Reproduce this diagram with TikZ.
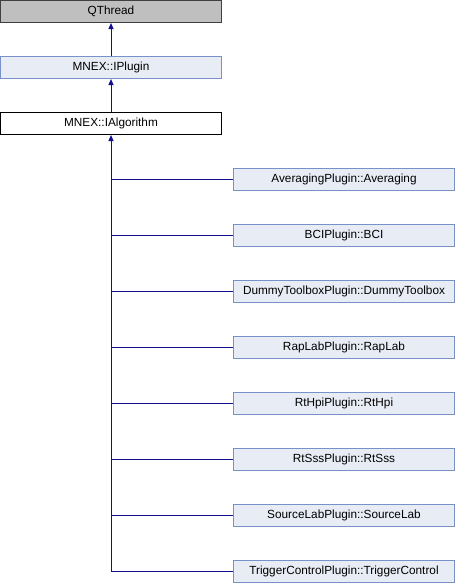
\documentclass[tikz,border=0pt]{standalone}
\usepackage{fontspec}
\setmainfont{Liberation Sans}
\usepackage{xcolor}
\definecolor{edgeblue}{RGB}{16,16,140}
\definecolor{boxfill}{RGB}{232,236,245}
\definecolor{boxline}{RGB}{120,145,200}
\definecolor{basegray}{RGB}{191,191,191}
\usetikzlibrary{positioning,arrows.meta}

\tikzset{
  cls/.style={draw=boxline, fill=boxfill, line width=1pt, minimum width=221pt, minimum height=22pt, inner sep=0pt, font=\fontsize{11.8}{13}\selectfont},
  inh/.style={draw=edgeblue, line width=1pt},
}

\begin{document}
\begin{tikzpicture}[x=1pt, y=-1pt]
\useasboundingbox (0,0) rectangle (456,584);

\node[cls, draw=black!75, fill=basegray] (qthread) at (111,11.5) {QThread};
\node[cls] (iplugin) at (111,67.5) {MNEX::IPlugin};
\node[cls, draw=black, fill=white] (ialgorithm) at (111,123.5) {MNEX::IAlgorithm};

\draw[inh, -{Triangle[length=6pt,width=5pt]}] (iplugin) -- (qthread);
\draw[inh, -{Triangle[length=6pt,width=5pt]}] (ialgorithm) -- (iplugin);

% derived plugins
\node[cls] (averaging) at (344,179.5) {AveragingPlugin::Averaging};
\node[cls] (bci) at (344,235.5) {BCIPlugin::BCI};
\node[cls] (dummy) at (344,291.5) {DummyToolboxPlugin::DummyToolbox};
\node[cls] (raplab) at (344,347.5) {RapLabPlugin::RapLab};
\node[cls] (rthpi) at (344,403.5) {RtHpiPlugin::RtHpi};
\node[cls] (rtsss) at (344,459.5) {RtSssPlugin::RtSss};
\node[cls] (sourcelab) at (344,515.5) {SourceLabPlugin::SourceLab};
\node[cls] (trigger) at (344,571.5) {TriggerControlPlugin::TriggerControl};

\coordinate (trunk) at (111,571.5);
\draw[inh, {Triangle[length=6pt,width=5pt]}-] (ialgorithm.south) -- (trunk);
\foreach \n in {averaging,bci,dummy,raplab,rthpi,rtsss,sourcelab,trigger}
  \draw[inh] (trunk |- \n.west) -- (\n.west);
\end{tikzpicture}
\end{document}
